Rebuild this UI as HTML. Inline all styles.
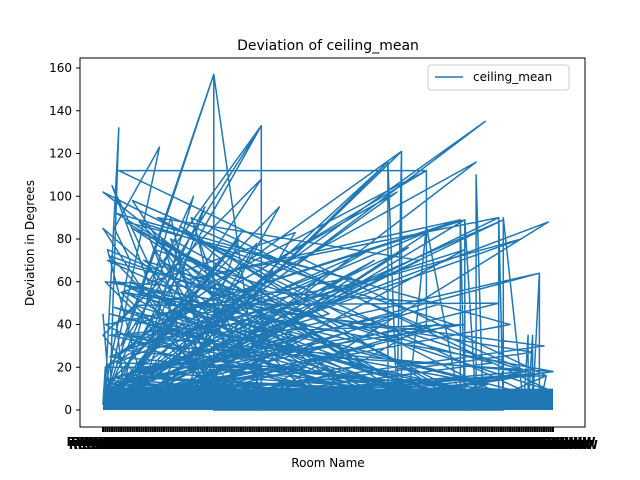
<!DOCTYPE html>
<html><head><meta charset="utf-8"><style>
html,body{margin:0;padding:0;background:#fff;}
svg{display:block;font-family:"DejaVu Sans","Liberation Sans",sans-serif;}
</style></head><body>
<svg id="chart" width="640" height="480" viewBox="0 0 640 480">
<rect x="0" y="0" width="640" height="480" fill="#fff"/>
<text x="328" y="50" font-size="14" text-anchor="middle">Deviation of ceiling_mean</text>
<g id="series"></g>
<g id="yaxis"></g>
<g id="xaxis"></g>
<rect x="80" y="58" width="505" height="369" fill="none" stroke="#000" stroke-width="1"/>
<text x="328" y="467" font-size="12" text-anchor="middle">Room Name</text>
<text transform="translate(34,243) rotate(-90)" font-size="12" text-anchor="middle">Deviation in Degrees</text>
<g>
<rect x="428" y="65" width="141" height="25" rx="3" fill="#fff" stroke="#ccc"/>
<line x1="435" y1="77" x2="463" y2="77" stroke="#1f77b4" stroke-width="1.5"/>
<text x="473" y="81" font-size="12">ceiling_mean</text>
</g>
</svg>
<script>
const numCategories = 200;
const yTicks = [0,20,40,60,80,100,120,140,160];
const xIdx = [0,3,7,1,12,5,25,2,49,8,70,20,4,49,30,9,6,70,15,3,169,10,60,2,45,18,0,35,11,126,22,132,5,143,40,1,165,28,160,14,158,33,175,7,177,50,193,2,197,66,3,90,12,120,4,150,19,180,6,110,0,40,16,75,9,140,24,100,1,55,13,190,38,85,8,170,27,130,5,62,17,105,2,20,44,115,10,150,3,80,36,160,21,95,7,135,31,185,11,70,0,48,26,125,14,175,4,58,39,198,18,90,6,145,29,110,1,65,23,187,9,155,34,100,2,78,41,120,15,195,8,52,30,165,12,88,3,140,25,105,0,180,43,70,19,130,5,60,37,155,16,95,10,199,22,118,4,75,32,170,13,84,6,135,28,190,1,46,20,112,11,160,35,68,7,125,17,182,3,100,26,148,14,58,42,192,9,80,21,138,2,172,30,92,15,162,5,118,24,196,0,
 126,126,130,132,132,135,143,158,158,160,160,165,165,168,175,175,177,177,186,188,188,190,190,193,193,196,7,143,143,110,49,49,70,70,2,143];
const vals = [45,5,132,10,70,85,123,8,157,30,133,60,105,3,90,12,40,108,20,2,135,15,80,1,95,12,35,70,4,116,8,121,25,112,55,20,116,5,89,40,89,60,90,3,89,30,64,10,88,2,72,40,6,30,60,50,8,40,92,25,3,100,15,65,2,70,90,45,14,30,98,17,3,83,55,12,40,102,6,84,20,30,75,2,45,60,88,1,35,42,5,75,28,10,60,2,35,80,15,20,85,6,80,12,49,50,4,33,90,9,70,20,22,84,3,62,40,4,75,18,35,5,86,30,12,95,25,70,3,30,55,10,80,2,60,20,45,8,70,15,102,5,38,60,2,45,15,80,8,40,88,3,55,18,30,75,6,20,45,2,85,35,10,76,4,27,60,12,82,5,35,40,20,78,2,12,55,9,25,65,3,40,18,10,80,6,28,50,15,4,70,22,2,35,12,8,48,5,15,4,3,
 2,116,1,121,2,3,86,2,89,0,89,2,110,3,1,90,0,90,2,35,1,35,2,64,1,16,112,112,40,20,0,157,0,133,5,10];
const X0=103, X1=553, Y0=410, Y1=68;
const xs = i => X0 + (i/(numCategories-1))*(X1-X0);
const ys = v => Y0 - (v/160)*(Y0-Y1);
const NS="http://www.w3.org/2000/svg";
const series=document.getElementById('series');
const band=document.createElementNS(NS,'polyline');


let pts=[];
for(let k=0;k<xIdx.length;k++){pts.push(xs(xIdx[k]).toFixed(1)+','+ys(vals[k]).toFixed(1));}
band.setAttribute('points',pts.join(' '));
band.setAttribute('fill','none');band.setAttribute('stroke','#1f77b4');band.setAttribute('stroke-width','1.5');band.setAttribute('stroke-linejoin','round');
series.appendChild(band);
const lowVals=[];
for(let k=0;k<vals.length;k++){ if(vals[k]<=20) lowVals.push(k); }
const fill=document.createElementNS(NS,'polyline');


let p2=[];
for(let r=0;r<3;r++){for(let k=0;k<lowVals.length;k++){const j=lowVals[(k*7+r*13)%lowVals.length];p2.push(xs(xIdx[j]).toFixed(1)+','+ys(vals[j]).toFixed(1));}}
fill.setAttribute('points',p2.join(' '));
fill.setAttribute('fill','none');fill.setAttribute('stroke','#1f77b4');fill.setAttribute('stroke-width','1.5');
series.appendChild(fill);
const bandRect=document.createElementNS(NS,'rect');


bandRect.setAttribute('x',X0);bandRect.setAttribute('y',ys(10));bandRect.setAttribute('width',X1-X0);bandRect.setAttribute('height',ys(0)-ys(10));
bandRect.setAttribute('fill','#1f77b4');
series.appendChild(bandRect);
const ya=document.getElementById('yaxis');
yTicks.forEach(t=>{
 const l=document.createElementNS(NS,'line');
 
 
 l.setAttribute('x1',76);l.setAttribute('x2',80);l.setAttribute('y1',ys(t));l.setAttribute('y2',ys(t));l.setAttribute('stroke','#000');
 ya.appendChild(l);
 const tx=document.createElementNS(NS,'text');
 
 
 tx.setAttribute('x',72);tx.setAttribute('y',ys(t)+4);tx.setAttribute('font-size','12');tx.setAttribute('text-anchor','end');
 tx.textContent=t; ya.appendChild(tx);
});
const xa=document.getElementById('xaxis');
for(let i=0;i<numCategories;i++){
 const l=document.createElementNS(NS,'line');
 
 
 l.setAttribute('x1',xs(i));l.setAttribute('x2',xs(i));l.setAttribute('y1',427);l.setAttribute('y2',432);l.setAttribute('stroke','#000');l.setAttribute('stroke-width','2');
 xa.appendChild(l);
 const tx=document.createElementNS(NS,'text');
 
 
 tx.setAttribute('x',xs(i));tx.setAttribute('y',i%2?449:446);tx.setAttribute('font-size','12');tx.setAttribute('font-weight','bold');tx.setAttribute('text-anchor','middle');
 tx.textContent='Room'+i+'WW'; xa.appendChild(tx);
}
</script>
</body></html>
